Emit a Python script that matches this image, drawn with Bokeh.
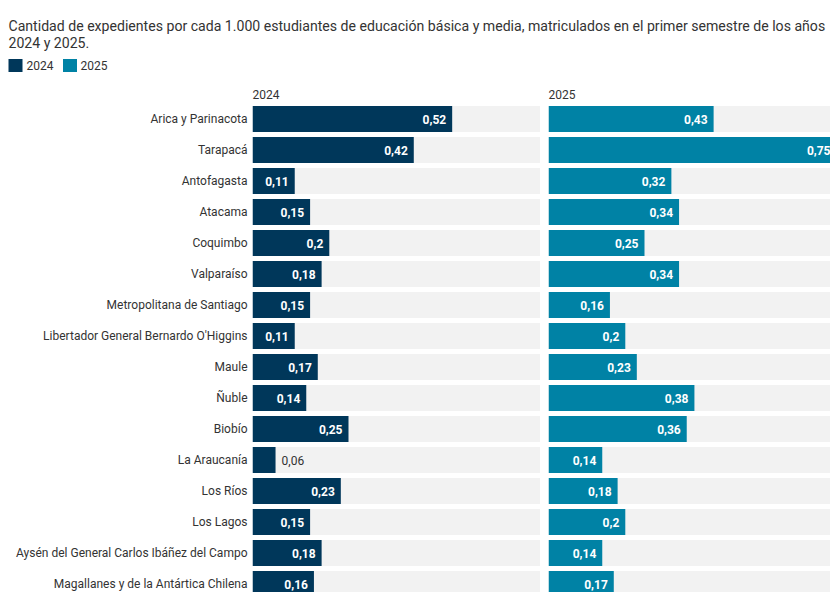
from bokeh.plotting import figure
from bokeh.layouts import column, row
from bokeh.models import Range1d, FixedTicker, ColumnDataSource
from bokeh.core.properties import value
from bokeh.embed import file_html
from bokeh.resources import INLINE

regions = [
    "Arica y Parinacota", "Tarapacá", "Antofagasta", "Atacama", "Coquimbo",
    "Valparaíso", "Metropolitana de Santiago", "Libertador General Bernardo O'Higgins",
    "Maule", "Ñuble", "Biobío", "La Araucanía", "Los Ríos", "Los Lagos",
    "Aysén del General Carlos Ibáñez del Campo", "Magallanes y de la Antártica Chilena",
]
v2024 = [0.52, 0.42, 0.11, 0.15, 0.20, 0.18, 0.15, 0.11, 0.17, 0.14, 0.25, 0.06, 0.23, 0.15, 0.18, 0.16]
v2025 = [0.43, 0.75, 0.32, 0.34, 0.25, 0.34, 0.16, 0.20, 0.23, 0.38, 0.36, 0.14, 0.18, 0.20, 0.14, 0.17]
series = ["2024", "2025"]
colors = ["#00375a", "#0082a5"]
title_lines = [
    "Cantidad de expedientes por cada 1.000 estudiantes de educación básica y media, matriculados en el primer semestre de los años",
    "2024 y 2025.",
]

FONT = value("Roboto")
TXT = "#333333"
TRACK = "#f2f2f2"
PX_PER_UNIT = 384.0
ROW_PX = 31.0
track_max = max(v2024 + v2025)
idx = list(range(len(regions)))
frame_h = 489
y_bottom = -0.5 + frame_h / ROW_PX


def fmt(v):
    s = ("%.2f" % v).rstrip("0").rstrip(".")
    return s.replace(".", ",")


def panel(vals, color, width, left_border, show_axis, frame_w):
    p = figure(width=width, height=frame_h, output_backend="svg", toolbar_location=None,
               x_range=Range1d(0, frame_w / PX_PER_UNIT), y_range=Range1d(y_bottom, -0.5),
               x_axis_location=None, y_axis_location="left" if show_axis else None,
               min_border_left=left_border, min_border_right=0, min_border_top=0,
               min_border_bottom=0)
    p.outline_line_color = None
    p.grid.visible = False
    p.background_fill_color = "white"
    p.border_fill_color = "white"
    src = ColumnDataSource(dict(
        y=idx, v=vals, track=[track_max] * len(vals),
    ))
    p.hbar(y="y", left=0, right="track", height=26 / ROW_PX, source=src,
           fill_color=TRACK, line_color=None)
    p.hbar(y="y", left=0, right="v", height=26 / ROW_PX, source=src,
           fill_color=color, line_color=None)
    inside = [i for i, v in enumerate(vals) if v * PX_PER_UNIT > 32]
    outside = [i for i, v in enumerate(vals) if v * PX_PER_UNIT <= 32]
    if inside:
        p.text(x=[vals[i] for i in inside], y=[i for i in inside],
               text=[fmt(vals[i]) for i in inside], x_offset=-6,
               text_align="right", text_baseline="middle", text_color="white",
               text_font=FONT, text_font_size="12px", text_font_style="bold")
    if outside:
        p.text(x=[vals[i] for i in outside], y=[i for i in outside],
               text=[fmt(vals[i]) for i in outside], x_offset=6,
               text_align="left", text_baseline="middle", text_color=TXT,
               text_font=FONT, text_font_size="12px")
    if show_axis:
        ax = p.yaxis[0]
        ax.ticker = FixedTicker(ticks=idx)
        ax.major_label_overrides = {i: r for i, r in enumerate(regions)}
        ax.axis_line_color = None
        ax.major_tick_line_color = None
        ax.minor_tick_line_color = None
        ax.major_label_standoff = -1
        ax.major_label_text_font = "Roboto"
        ax.major_label_text_font_size = "12px"
        ax.major_label_text_color = TXT
    return p


# header
hdr_h = 103
hdr = figure(width=830, height=hdr_h, output_backend="svg", toolbar_location=None,
             x_range=Range1d(0, 830), y_range=Range1d(hdr_h, 0),
             x_axis_location=None, y_axis_location=None,
             min_border_left=0, min_border_right=0, min_border_top=0, min_border_bottom=0)
hdr.outline_line_color = None
hdr.grid.visible = False
hdr.text(x=[8, 8], y=[25, 42.5], text=title_lines, text_align="left",
         text_baseline="alphabetic", text_color=TXT, text_font=FONT, text_font_size="14.1px")
hdr.rect(x=[15, 69.5], y=[65, 65], width=14, height=13, fill_color=colors, line_color=None)
hdr.text(x=[26, 80], y=[65, 65], text=series, text_align="left", text_baseline="middle",
         text_color=TXT, text_font=FONT, text_font_size="12px")
hdr.text(x=[252, 548], y=[93.5, 93.5], text=series, text_align="left", text_baseline="middle",
         text_color=TXT, text_font=FONT, text_font_size="12px")

p1 = panel(v2024, colors[0], 540, 252, True, 288)
p2 = panel(v2025, colors[1], 290, 8, False, 282)

layout = column(hdr, row(p1, p2, spacing=0), spacing=0)
open("out.html", "w").write(file_html(layout, INLINE))
